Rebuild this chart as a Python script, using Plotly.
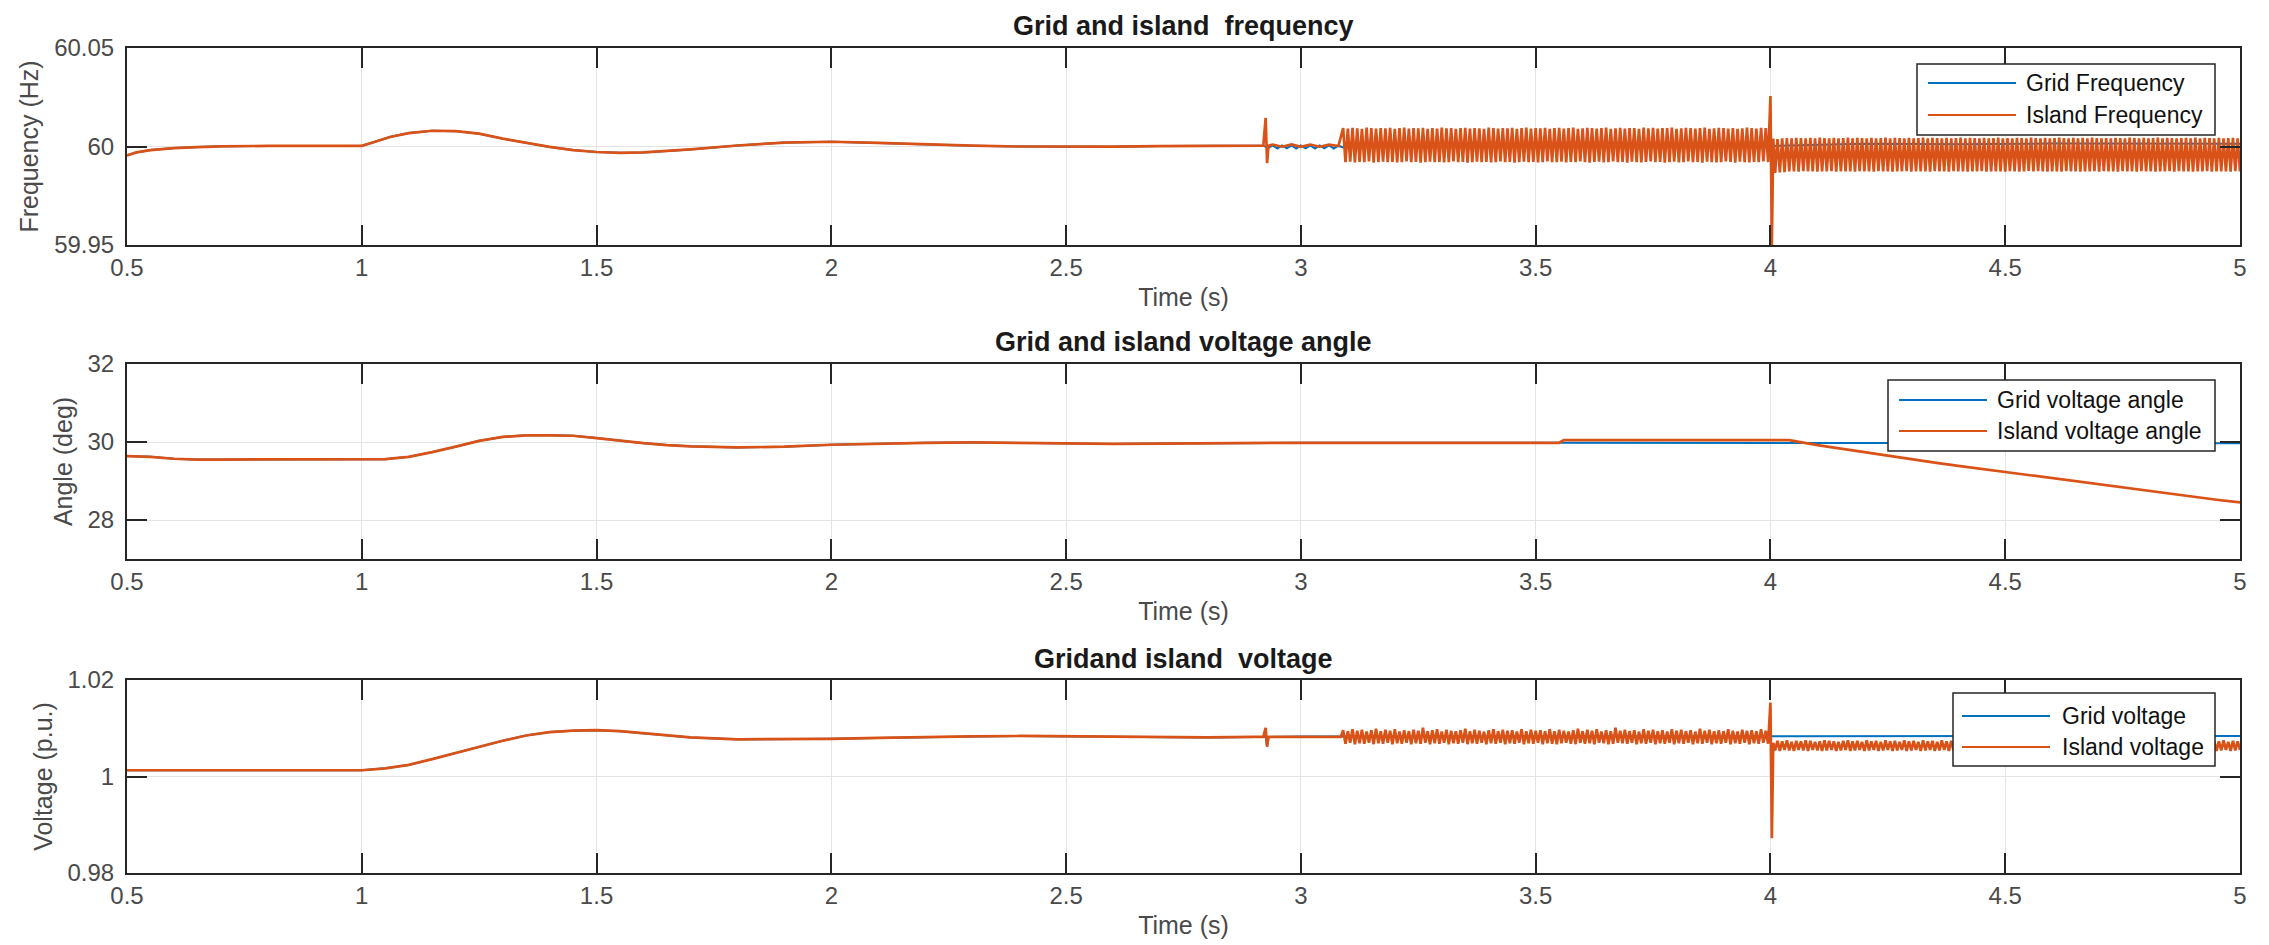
import numpy as np
import plotly.graph_objects as go
from plotly.subplots import make_subplots

# ---------------- DATA ----------------
time_ticks = [0.5, 1, 1.5, 2, 2.5, 3, 3.5, 4, 4.5, 5]
time_tick_text = ["0.5", "1", "1.5", "2", "2.5", "3", "3.5", "4", "4.5", "5"]

freq_ticks = [59.95, 60, 60.05]
freq_tick_text = ["59.95", "60", "60.05"]
angle_ticks = [28, 30, 32]
angle_tick_text = ["28", "30", "32"]
volt_ticks = [0.98, 1.0, 1.02]
volt_tick_text = ["0.98", "1", "1.02"]

# --- frequency: common (grid == island) part
f_common_t = [0.50, 0.52, 0.55, 0.60, 0.65, 0.70, 0.80, 0.90, 1.00, 1.03, 1.06, 1.10, 1.15, 1.20,
              1.25, 1.30, 1.35, 1.40, 1.45, 1.50, 1.55, 1.60, 1.70, 1.80, 1.90, 2.00, 2.10, 2.20,
              2.30, 2.40, 2.50, 2.60, 2.70, 2.80, 2.90, 2.92]
f_common = [59.9955, 59.9970, 59.9982, 59.9992, 59.9997, 60.0001, 60.0003, 60.0003, 60.0003,
            60.0025, 60.0048, 60.0068, 60.0080, 60.0078, 60.0065, 60.0040, 60.0018, 59.9998,
            59.9982, 59.9972, 59.9968, 59.9970, 59.9985, 60.0005, 60.0020, 60.0024, 60.0018,
            60.0010, 60.0004, 60.0000, 59.9998, 59.9999, 60.0002, 60.0004, 60.0004, 60.0004]

# grid frequency after the common part
f_grid_tail_t = [2.93, 2.94, 2.95, 2.96, 2.97, 2.98, 2.99, 3.00, 3.01, 3.02, 3.03, 3.04, 3.05,
                 3.06, 3.07, 3.08, 3.09, 3.30, 3.50, 3.70, 3.90, 4.00, 4.20, 4.40, 4.60, 4.80, 5.00]
f_grid_tail = [59.9992, 60.0006, 59.9990, 60.0005, 59.9991, 60.0006, 59.9990, 60.0005, 59.9991,
               60.0006, 59.9990, 60.0005, 59.9991, 60.0005, 59.9990, 60.0004, 59.9995, 60.0001,
               59.9999, 60.0001, 60.0000, 60.0003, 60.0014, 60.0012, 60.0015, 60.0013, 60.0014]

# island frequency after the common part
f_isl_pre_t = [2.925, 2.928, 2.931, 2.94, 2.96, 2.98, 3.00, 3.02, 3.04, 3.06, 3.08]
f_isl_pre = [60.0145, 59.9916, 60.0004, 60.0010, 59.9999, 60.0011, 59.9998, 60.0010, 59.9999,
             60.0009, 60.0002]
# 5 ms samples from 3.090 s
f_isl_osc1 = [
    60.0094, 59.9921, 60.0091, 59.9923, 60.0095, 59.9919, 60.0092, 59.9922, 60.0090, 59.9920,
    60.0096, 59.9924, 60.0093, 59.9918, 60.0091, 59.9921, 60.0094, 59.9923, 60.0092, 59.9920,
    60.0095, 59.9922, 60.0090, 59.9919, 60.0093, 59.9921, 60.0096, 59.9924, 60.0091, 59.9920,
    60.0094, 59.9922, 60.0092, 59.9918, 60.0095, 59.9921, 60.0090, 59.9923, 60.0093, 59.9920,
    60.0091, 59.9922, 60.0096, 59.9919, 60.0092, 59.9921, 60.0094, 59.9924, 60.0090, 59.9920,
    60.0093, 59.9922, 60.0095, 59.9918, 60.0091, 59.9921, 60.0094, 59.9923, 60.0092, 59.9920,
    60.0090, 59.9922, 60.0096, 59.9919, 60.0093, 59.9921, 60.0091, 59.9924, 60.0094, 59.9920,
    60.0092, 59.9922, 60.0095, 59.9918, 60.0090, 59.9921, 60.0093, 59.9923, 60.0096, 59.9920,
    60.0091, 59.9922, 60.0094, 59.9919, 60.0092, 59.9921, 60.0095, 59.9924, 60.0090, 59.9920,
    60.0093, 59.9920, 60.0095, 59.9923, 60.0091, 59.9919, 60.0094, 59.9922, 60.0096, 59.9921,
    60.0090, 59.9924, 60.0092, 59.9920, 60.0095, 59.9918, 60.0093, 59.9922, 60.0091, 59.9923,
    60.0094, 59.9919, 60.0096, 59.9921, 60.0090, 59.9924, 60.0092, 59.9920, 60.0095, 59.9922,
    60.0091, 59.9918, 60.0093, 59.9923, 60.0094, 59.9921, 60.0090, 59.9919, 60.0096, 59.9922,
    60.0092, 59.9924, 60.0095, 59.9920, 60.0091, 59.9922, 60.0093, 59.9918, 60.0094, 59.9921,
    60.0096, 59.9923, 60.0090, 59.9919, 60.0092, 59.9921, 60.0095, 59.9924, 60.0093, 59.9920,
    60.0091, 59.9922, 60.0094, 59.9918, 60.0096, 59.9923, 60.0090, 59.9921, 60.0092, 59.9919,
    60.0095, 59.9920, 60.0093, 59.9924, 60.0091, 59.9922, 60.0094, 59.9918, 60.0090, 59.9923,
    60.0092, 59.9921, 60.0096, 59.9919, 60.0093, 59.9922, 60.0091, 59.9920, 60.0095, 59.9924,
    60.0094, 59.9921]
f_isl_spike_t = [4.000, 4.003, 4.006]
f_isl_spike = [60.0256, 59.9500, 60.0040]
# 5 ms samples from 4.010 s
f_isl_osc2 = [
    59.9866, 60.0038, 59.9868, 60.0041, 59.9870, 60.0043, 59.9873, 60.0042, 59.9874, 60.0044,
    59.9872, 60.0043, 59.9875, 60.0041, 59.9873, 60.0044, 59.9874, 60.0042, 59.9872, 60.0045,
    59.9874, 60.0043, 59.9873, 60.0041, 59.9875, 60.0044, 59.9872, 60.0042, 59.9874, 60.0043,
    59.9873, 60.0045, 59.9874, 60.0042, 59.9872, 60.0044, 59.9875, 60.0043, 59.9873, 60.0041,
    59.9874, 60.0044, 59.9872, 60.0042, 59.9875, 60.0043, 59.9873, 60.0045, 59.9874, 60.0042,
    59.9872, 60.0044, 59.9874, 60.0043, 59.9873, 60.0041, 59.9875, 60.0044, 59.9872, 60.0042,
    59.9874, 60.0043, 59.9873, 60.0045, 59.9874, 60.0042, 59.9872, 60.0044, 59.9875, 60.0043,
    59.9873, 60.0041, 59.9874, 60.0044, 59.9872, 60.0042, 59.9875, 60.0043, 59.9873, 60.0045,
    59.9874, 60.0042, 59.9872, 60.0044, 59.9874, 60.0043, 59.9873, 60.0041, 59.9875, 60.0044,
    59.9872, 60.0042, 59.9874, 60.0043, 59.9873, 60.0045, 59.9874, 60.0042, 59.9872, 60.0043,
    59.9875, 60.0041, 59.9873, 60.0044, 59.9872, 60.0043, 59.9874, 60.0042, 59.9876, 60.0045,
    59.9873, 60.0043, 59.9875, 60.0042, 59.9874, 60.0044, 59.9872, 60.0041, 59.9873, 60.0043,
    59.9874, 60.0045, 59.9872, 60.0043, 59.9875, 60.0042, 59.9873, 60.0044, 59.9874, 60.0041,
    59.9872, 60.0044, 59.9874, 60.0042, 59.9873, 60.0045, 59.9875, 60.0043, 59.9872, 60.0042,
    59.9875, 60.0043, 59.9873, 60.0041, 59.9874, 60.0044, 59.9872, 60.0043, 59.9875, 60.0042,
    59.9873, 60.0045, 59.9874, 60.0043, 59.9872, 60.0042, 59.9875, 60.0044, 59.9873, 60.0041,
    59.9874, 60.0043, 59.9872, 60.0045, 59.9873, 60.0042, 59.9874, 60.0044, 59.9875, 60.0043,
    59.9872, 60.0041, 59.9875, 60.0043, 59.9874, 60.0044, 59.9873, 60.0042, 59.9872, 60.0045,
    59.9874, 60.0042, 59.9873, 60.0044, 59.9875, 60.0043, 59.9872, 60.0041, 59.9874, 60.0044,
    59.9873, 60.0042, 59.9874, 60.0043, 59.9872, 60.0044, 59.9875, 60.0042, 59.9873]

# --- voltage angle
a_common_t = [0.50, 0.55, 0.60, 0.65, 0.70, 0.80, 0.90, 1.00, 1.05, 1.10, 1.15, 1.20, 1.25, 1.30,
              1.35, 1.40, 1.45, 1.50, 1.55, 1.60, 1.65, 1.70, 1.80, 1.90, 2.00, 2.10, 2.20, 2.30,
              2.40, 2.50, 2.60, 2.70, 2.80, 2.90, 3.00, 3.20, 3.40, 3.55]
a_common = [29.64, 29.62, 29.57, 29.55, 29.55, 29.55, 29.55, 29.55, 29.56, 29.62, 29.74, 29.88,
            30.03, 30.13, 30.17, 30.17, 30.16, 30.10, 30.03, 29.97, 29.92, 29.89, 29.86, 29.88,
            29.93, 29.96, 29.98, 29.99, 29.98, 29.97, 29.95, 29.96, 29.97, 29.98, 29.98, 29.98,
            29.98, 29.98]
a_grid_tail_t = [3.56, 4.00, 4.50, 5.00]
a_grid_tail = [29.97, 29.97, 29.97, 29.97]
a_isl_tail_t = [3.56, 3.80, 4.04, 4.10, 4.15, 4.20, 4.25, 4.30, 4.35, 4.40, 4.45, 4.50, 4.55,
                4.60, 4.65, 4.70, 4.75, 4.80, 4.85, 4.90, 4.95, 5.00]
a_isl_tail = [30.05, 30.05, 30.05, 29.92, 29.83, 29.74, 29.64, 29.55, 29.47, 29.39, 29.31, 29.23,
              29.15, 29.07, 28.99, 28.91, 28.83, 28.75, 28.67, 28.60, 28.52, 28.45]

# --- voltage magnitude
v_common_t = [0.50, 0.60, 0.70, 0.80, 0.90, 1.00, 1.05, 1.10, 1.15, 1.20, 1.25, 1.30, 1.35, 1.40,
              1.45, 1.50, 1.55, 1.60, 1.65, 1.70, 1.80, 1.90, 2.00, 2.10, 2.20, 2.30, 2.40, 2.50,
              2.60, 2.70, 2.80, 2.90, 2.92]
v_common = [1.0013, 1.0013, 1.0013, 1.0013, 1.0013, 1.0013, 1.0017, 1.0024, 1.0036, 1.0049,
            1.0062, 1.0074, 1.0085, 1.0092, 1.0095, 1.0096, 1.0094, 1.0090, 1.0085, 1.0081,
            1.0077, 1.0077, 1.0078, 1.0080, 1.0082, 1.0083, 1.0084, 1.0083, 1.0082, 1.0082,
            1.0081, 1.0082, 1.0082]
v_grid_tail_t = [2.925, 2.928, 2.931, 3.00, 3.50, 4.00, 4.50, 5.00]
v_grid_tail = [1.0082, 1.0062, 1.0082, 1.0083, 1.0083, 1.0084, 1.0084, 1.0084]
v_isl_pre_t = [2.925, 2.928, 2.931, 2.95, 3.00, 3.05, 3.085]
v_isl_pre = [1.0101, 1.0062, 1.0082, 1.0082, 1.0082, 1.0082, 1.0082]
# 5 ms samples from 3.090 s
v_isl_osc1 = [
    1.0096, 1.0068, 1.0094, 1.0070, 1.0098, 1.0067, 1.0095, 1.0069, 1.0097, 1.0068,
    1.0093, 1.0070, 1.0096, 1.0067, 1.0099, 1.0069, 1.0094, 1.0068, 1.0097, 1.0070,
    1.0095, 1.0067, 1.0098, 1.0069, 1.0093, 1.0068, 1.0096, 1.0070, 1.0094, 1.0067,
    1.0097, 1.0069, 1.0095, 1.0068, 1.0101, 1.0070, 1.0094, 1.0067, 1.0096, 1.0069,
    1.0098, 1.0068, 1.0093, 1.0070, 1.0097, 1.0067, 1.0095, 1.0069, 1.0094, 1.0068,
    1.0096, 1.0070, 1.0099, 1.0067, 1.0094, 1.0069, 1.0097, 1.0068, 1.0095, 1.0070,
    1.0093, 1.0067, 1.0096, 1.0069, 1.0098, 1.0068, 1.0094, 1.0070, 1.0097, 1.0067,
    1.0095, 1.0069, 1.0096, 1.0068, 1.0093, 1.0070, 1.0098, 1.0067, 1.0094, 1.0069,
    1.0097, 1.0068, 1.0095, 1.0070, 1.0096, 1.0067, 1.0094, 1.0069, 1.0098, 1.0068,
    1.0094, 1.0067, 1.0097, 1.0069, 1.0095, 1.0070, 1.0093, 1.0068, 1.0096, 1.0067,
    1.0099, 1.0070, 1.0094, 1.0068, 1.0097, 1.0069, 1.0095, 1.0067, 1.0098, 1.0070,
    1.0093, 1.0069, 1.0096, 1.0067, 1.0094, 1.0068, 1.0101, 1.0070, 1.0095, 1.0069,
    1.0097, 1.0068, 1.0094, 1.0070, 1.0096, 1.0067, 1.0093, 1.0069, 1.0098, 1.0068,
    1.0095, 1.0070, 1.0097, 1.0067, 1.0094, 1.0069, 1.0096, 1.0068, 1.0093, 1.0070,
    1.0098, 1.0067, 1.0095, 1.0069, 1.0097, 1.0068, 1.0094, 1.0070, 1.0096, 1.0067,
    1.0093, 1.0069, 1.0099, 1.0068, 1.0095, 1.0070, 1.0097, 1.0067, 1.0094, 1.0069,
    1.0096, 1.0068, 1.0094, 1.0070, 1.0098, 1.0067, 1.0095, 1.0069, 1.0093, 1.0068,
    1.0097, 1.0070, 1.0095, 1.0067, 1.0096, 1.0069, 1.0094, 1.0068, 1.0098, 1.0070,
    1.0095, 1.0068]
v_isl_spike_t = [4.000, 4.003, 4.006]
v_isl_spike = [1.0153, 0.9872, 1.0070]
# 5 ms samples from 4.010 s
v_isl_osc2 = [
    1.0054, 1.0074, 1.0053, 1.0073, 1.0055, 1.0075, 1.0054, 1.0072, 1.0053, 1.0074,
    1.0055, 1.0073, 1.0054, 1.0075, 1.0053, 1.0074, 1.0055, 1.0072, 1.0054, 1.0073,
    1.0053, 1.0075, 1.0054, 1.0074, 1.0055, 1.0073, 1.0053, 1.0072, 1.0054, 1.0074,
    1.0055, 1.0075, 1.0053, 1.0073, 1.0054, 1.0074, 1.0055, 1.0072, 1.0053, 1.0075,
    1.0054, 1.0073, 1.0055, 1.0074, 1.0053, 1.0072, 1.0054, 1.0075, 1.0055, 1.0073,
    1.0053, 1.0074, 1.0054, 1.0072, 1.0055, 1.0075, 1.0053, 1.0073, 1.0054, 1.0074,
    1.0055, 1.0072, 1.0053, 1.0075, 1.0054, 1.0073, 1.0055, 1.0074, 1.0053, 1.0072,
    1.0054, 1.0075, 1.0055, 1.0073, 1.0053, 1.0074, 1.0054, 1.0072, 1.0055, 1.0075,
    1.0053, 1.0073, 1.0054, 1.0074, 1.0055, 1.0072, 1.0053, 1.0075, 1.0054, 1.0073,
    1.0055, 1.0074, 1.0053, 1.0072, 1.0054, 1.0075, 1.0055, 1.0073, 1.0053, 1.0074,
    1.0054, 1.0073, 1.0055, 1.0075, 1.0053, 1.0074, 1.0054, 1.0072, 1.0055, 1.0073,
    1.0053, 1.0075, 1.0054, 1.0074, 1.0055, 1.0073, 1.0053, 1.0072, 1.0054, 1.0074,
    1.0055, 1.0072, 1.0053, 1.0075, 1.0054, 1.0073, 1.0055, 1.0074, 1.0053, 1.0072,
    1.0054, 1.0074, 1.0055, 1.0073, 1.0053, 1.0075, 1.0054, 1.0072, 1.0055, 1.0074,
    1.0053, 1.0073, 1.0054, 1.0075, 1.0055, 1.0074, 1.0053, 1.0072, 1.0054, 1.0073,
    1.0055, 1.0075, 1.0053, 1.0074, 1.0054, 1.0072, 1.0055, 1.0073, 1.0053, 1.0075,
    1.0054, 1.0072, 1.0055, 1.0074, 1.0053, 1.0073, 1.0054, 1.0075, 1.0055, 1.0072,
    1.0053, 1.0074, 1.0054, 1.0073, 1.0055, 1.0075, 1.0053, 1.0072, 1.0054, 1.0074,
    1.0055, 1.0073, 1.0053, 1.0075, 1.0054, 1.0072, 1.0055, 1.0074, 1.0053, 1.0073,
    1.0054, 1.0075, 1.0055, 1.0072, 1.0053, 1.0074, 1.0054, 1.0073, 1.0055]

STEP = 0.005  # sample spacing of the oscillating segments (s)


def sample_times(t0, values):
    return list(np.round(t0 + STEP * np.arange(len(values)), 4))


# ---------------- assemble series ----------------
f_grid_t = f_common_t + f_grid_tail_t
f_grid = f_common + f_grid_tail
f_isl_t = (f_common_t + f_isl_pre_t + sample_times(3.09, f_isl_osc1) + f_isl_spike_t
           + sample_times(4.01, f_isl_osc2))
f_isl = f_common + f_isl_pre + f_isl_osc1 + f_isl_spike + f_isl_osc2

a_grid_t = a_common_t + a_grid_tail_t
a_grid = a_common + a_grid_tail
a_isl_t = a_common_t + a_isl_tail_t
a_isl = a_common + a_isl_tail

v_grid_t = v_common_t + v_grid_tail_t
v_grid = v_common + v_grid_tail
v_isl_t = (v_common_t + v_isl_pre_t + sample_times(3.09, v_isl_osc1) + v_isl_spike_t
           + sample_times(4.01, v_isl_osc2))
v_isl = v_common + v_isl_pre + v_isl_osc1 + v_isl_spike + v_isl_osc2

# ---------------- STYLE ----------------
W, H = 2269, 945
FONT = "Liberation Sans, Arial, Helvetica, sans-serif"
BLUE = "#0072BD"
ORANGE = "#D95319"
AXC = "#262626"
TXT = "#4a4a4a"


def px(x):
    return x / W


def py(y):
    return 1 - y / H


fig = make_subplots(rows=3, cols=1)

panels = [
    (1, f_grid_t, f_grid, f_isl_t, f_isl, "Grid Frequency", "Island Frequency"),
    (2, a_grid_t, a_grid, a_isl_t, a_isl, "Grid voltage angle", "Island voltage angle"),
    (3, v_grid_t, v_grid, v_isl_t, v_isl, "Grid voltage", "Island voltage"),
]
for row, gt, gv, it, iv, gname, iname in panels:
    fig.add_trace(go.Scatter(x=gt, y=gv, mode="lines", name=gname,
                             line=dict(color=BLUE, width=2), showlegend=False), row=row, col=1)
    fig.add_trace(go.Scatter(x=it, y=iv, mode="lines", name=iname,
                             line=dict(color=ORANGE, width=2.7), showlegend=False), row=row, col=1)

# domains in pixels (left, right, top, bottom)
x_dom = [px(119), px(2232)]
y_doms = [[py(237), py(40)], [py(551), py(356)], [py(865), py(672)]]

axis_common = dict(
    showline=True, linecolor=AXC, linewidth=2, mirror="ticks",
    ticks="inside", ticklen=20, tickwidth=2, tickcolor=AXC,
    showgrid=True, gridcolor="#e4e4e4", gridwidth=1, zeroline=False,
    tickfont=dict(family=FONT, size=24, color=TXT), automargin=False,
)

y_specs = [
    ([59.95, 60.05], freq_ticks, freq_tick_text, "Frequency (Hz)"),
    ([27, 32], angle_ticks, angle_tick_text, "Angle (deg)"),
    ([0.98, 1.02], volt_ticks, volt_tick_text, "Voltage (p.u.)"),
]
for i in range(3):
    sfx = "" if i == 0 else str(i + 1)
    yr, yt, ytt, ytitle = y_specs[i]
    fig.layout["xaxis" + sfx].update(
        domain=x_dom, range=[0.5, 5], tickvals=time_ticks, ticktext=time_tick_text,
        ticklabelstandoff=0,
        title=dict(text="Time (s)", font=dict(family=FONT, size=25, color=TXT), standoff=9),
        **axis_common)
    fig.layout["yaxis" + sfx].update(
        domain=y_doms[i], range=yr, tickvals=yt, ticktext=ytt,
        ticklabelstandoff=6,
        title=dict(text=ytitle, font=dict(family=FONT, size=25, color=TXT), standoff=8),
        **axis_common)

# subplot titles
titles = [("Grid and island  frequency", 18), ("Grid and island voltage angle", 334),
          ("Gridand island  voltage", 651)]
annotations = []
for txt, yc in titles:
    annotations.append(dict(
        text="<b>" + txt.replace("  ", "&nbsp; ") + "</b>", x=px(1175), y=py(yc),
        xref="paper", yref="paper", xanchor="center", yanchor="middle", showarrow=False,
        font=dict(family=FONT, size=27, color="#1a1a1a")))

# legends (drawn as boxed keys)
shapes = []
legends = [
    ((1909, 56, 2207, 127), (1920, 2008, 2016),
     [("Grid Frequency", BLUE, 75), ("Island Frequency", ORANGE, 107)]),
    ((1880, 372, 2207, 443), (1891, 1979, 1987),
     [("Grid voltage angle", BLUE, 392), ("Island voltage angle", ORANGE, 423)]),
    ((1945, 685, 2207, 758), (1954, 2042, 2052),
     [("Grid voltage", BLUE, 708), ("Island voltage", ORANGE, 739)]),
]
for (bx0, by0, bx1, by1), (lx0, lx1, tx), items in legends:
    shapes.append(dict(type="rect", xref="paper", yref="paper",
                       x0=px(bx0), x1=px(bx1), y0=py(by1), y1=py(by0),
                       fillcolor="white", line=dict(color=AXC, width=1.5), layer="above"))
    for label, col, ry in items:
        shapes.append(dict(type="line", xref="paper", yref="paper",
                           x0=px(lx0), x1=px(lx1), y0=py(ry), y1=py(ry),
                           line=dict(color=col, width=2.2), layer="above"))
        annotations.append(dict(text=label, x=px(tx), y=py(ry), xref="paper", yref="paper",
                                xanchor="left", yanchor="middle", showarrow=False,
                                font=dict(family=FONT, size=23, color="#111111")))

fig.update_layout(
    width=W, height=H, margin=dict(l=0, r=0, t=0, b=0),
    paper_bgcolor="white", plot_bgcolor="white",
    font=dict(family=FONT, color=TXT),
    showlegend=False, annotations=annotations, shapes=shapes,
)

fig.write_html("out.html")
